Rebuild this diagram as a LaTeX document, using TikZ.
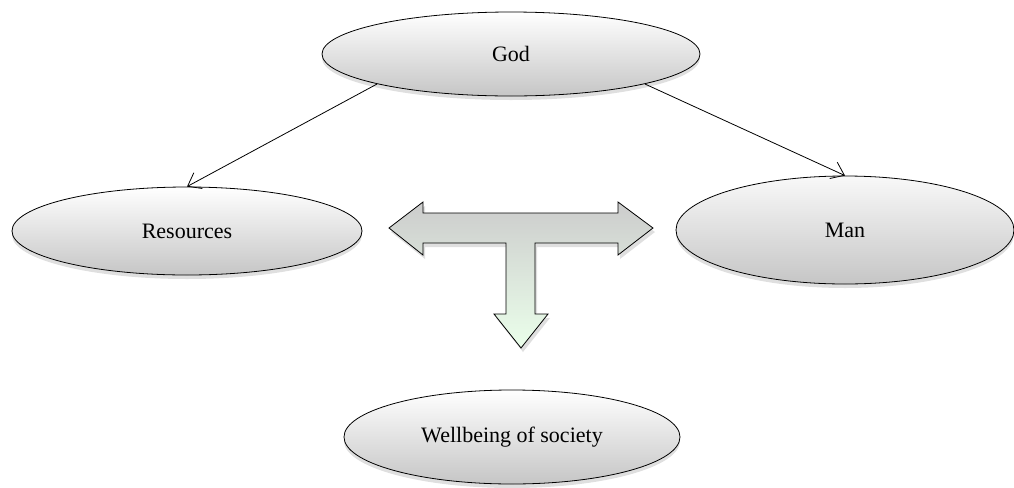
\documentclass[tikz,border=0pt]{standalone}
\usepackage{fontspec}
\setmainfont{Liberation Serif}
\usetikzlibrary{shapes.geometric,arrows.meta,shadows}

\tikzset{
  bubble/.style={ellipse,draw,thin,inner sep=0pt,top color=white,bottom color=gray!45,
    drop shadow={opacity=0.25,shadow xshift=0pt,shadow yshift=-2pt},font=\fontsize{11}{13}\selectfont},
  link/.style={thin,-{Straight Barb[length=6pt,width=9pt]}}
}

\begin{document}
\begin{tikzpicture}[x=0.5pt,y=-0.5pt]
\useasboundingbox (0,0) rectangle (1014,488);
\node [bubble,minimum width=189pt,minimum height=42pt] (god) at (511,54) {God};
\node [bubble,minimum width=175pt,minimum height=44pt] (res) at (187,231) {Resources};
\node [bubble,minimum width=169pt,minimum height=54pt,top color=gray!5,middle color=green!4!gray!10,bottom color=gray!45] (man) at (845,230) {Man};
\node [bubble,minimum width=168pt,minimum height=47pt] (well) at (512,437) {Wellbeing of society};

\draw [link] (god.south west) -- (res.north);
\draw [link] (god.south east) -- (man.north);

% T-shaped arrow
\draw [thin,top color=gray!40,bottom color=green!8!white,
  drop shadow={opacity=0.25,shadow xshift=1pt,shadow yshift=-2pt}]
  (389,228) -- (423,202) -- (423,213) -- (618,213) -- (618,202) -- (653,228)
  -- (618,255) -- (618,243) -- (535,243) -- (535,314) -- (548,314) -- (521,348)
  -- (494,314) -- (506,314) -- (506,243) -- (423,243) -- (423,255) -- cycle;
\end{tikzpicture}
\end{document}
